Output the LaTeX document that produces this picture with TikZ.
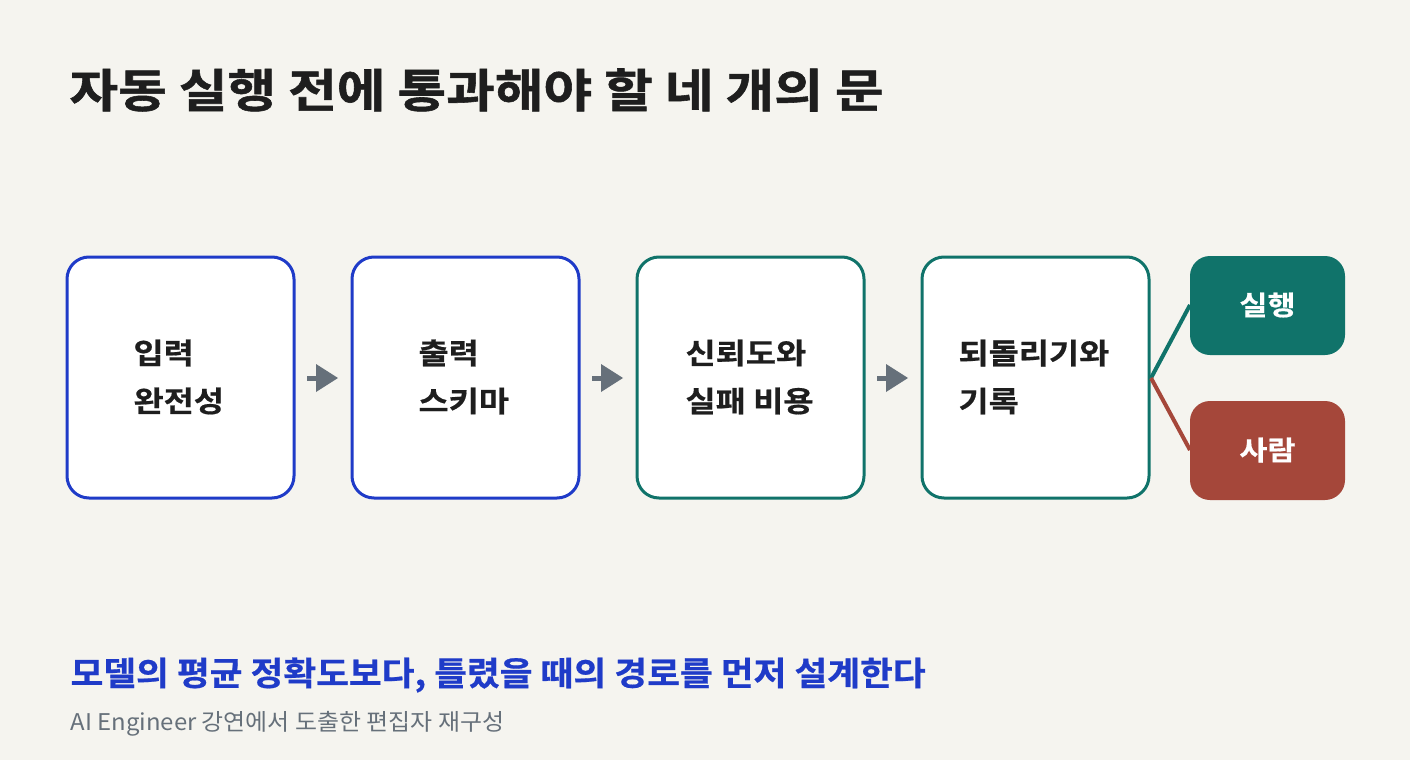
\documentclass[tikz,border=0pt]{standalone}
\usepackage{fontspec}
\setmainfont{Noto Sans CJK KR}
\newfontfamily\kb{Noto Sans CJK KR Bold}
\newfontfamily\kbt{Noto Sans CJK KR Bold}[FakeStretch=1.15,FakeBold=1.2]
\newfontfamily\kbl{Noto Sans CJK KR Bold}[FakeStretch=1.13,FakeBold=0.6]
\newfontfamily\kbs{Noto Sans CJK KR Bold}[FakeStretch=1.08,FakeBold=0.6]
\newfontfamily\kr{Noto Sans CJK KR}[FakeStretch=1.04]
\definecolor{bg}{HTML}{F5F4EF}
\definecolor{cblue}{HTML}{1F3BC8}
\definecolor{cteal}{HTML}{10736A}
\definecolor{cred}{HTML}{A5473A}
\definecolor{cgrey}{HTML}{66707A}
\definecolor{ctitle}{HTML}{1E1E1E}
\begin{document}
\begin{tikzpicture}[x=1pt,y=-1pt,
  box/.style={draw=#1,line width=3pt,fill=white,rounded corners=22pt},
  lbl/.style={anchor=west,align=left,font=\kbl\fontsize{29}{48}\selectfont,text=ctitle},
  res/.style={rounded corners=20pt,fill=#1},
  rlbl/.style={font=\kbl\fontsize{27}{30}\selectfont,text=white},
  ]
\path[fill=bg] (0,0) rectangle (1410,760);
\useasboundingbox (0,0) rectangle (1410,760);
\node[anchor=west,font=\kbt\fontsize{46}{50}\selectfont,text=ctitle] (title) at (66,90) {자동 실행 전에 통과해야 할 네 개의 문};
\draw[box=cblue] (67,257) rectangle (294,498);
\draw[box=cblue] (352,257) rectangle (579,498);
\draw[box=cteal] (637,257) rectangle (864,498);
\draw[box=cteal] (922,257) rectangle (1149,498);
\node[lbl] (t1) at (130,377) {입력\\완전성};
\node[lbl] (t2) at (415,377) {출력\\스키마};
\node[lbl] (t3) at (682,377) {신뢰도와\\실패 비용};
\node[lbl] (t4) at (955,377) {되돌리기와\\기록};
\foreach \x in {307,592,877}{
  \fill[cgrey] (\x,375.5) rectangle (\x+12,380.5);
  \fill[cgrey] (\x+9,364) -- (\x+31,378) -- (\x+9,392) -- cycle;
}
\coordinate (br) at (1151,378);
\fill[res=cteal] (1190,256) rectangle (1345,355);
\fill[res=cred] (1190,401) rectangle (1345,500);
\node[rlbl] (r1) at (1267.5,305) {실행};
\node[rlbl] (r2) at (1267.5,450) {사람};
\draw[cteal,line width=4pt] (br) -- (1190,305);
\draw[cred,line width=4pt] (br) -- (1190,450);
\node[anchor=west,font=\kbs\fontsize{33}{36}\selectfont,text=cblue] (sub) at (67,675) {모델의 평균 정확도보다, 틀렸을 때의 경로를 먼저 설계한다};
\node[anchor=west,font=\kr\fontsize{23}{26}\selectfont,text=cgrey] (foot) at (67,724) {AI Engineer 강연에서 도출한 편집자 재구성};
\end{tikzpicture}
\end{document}
